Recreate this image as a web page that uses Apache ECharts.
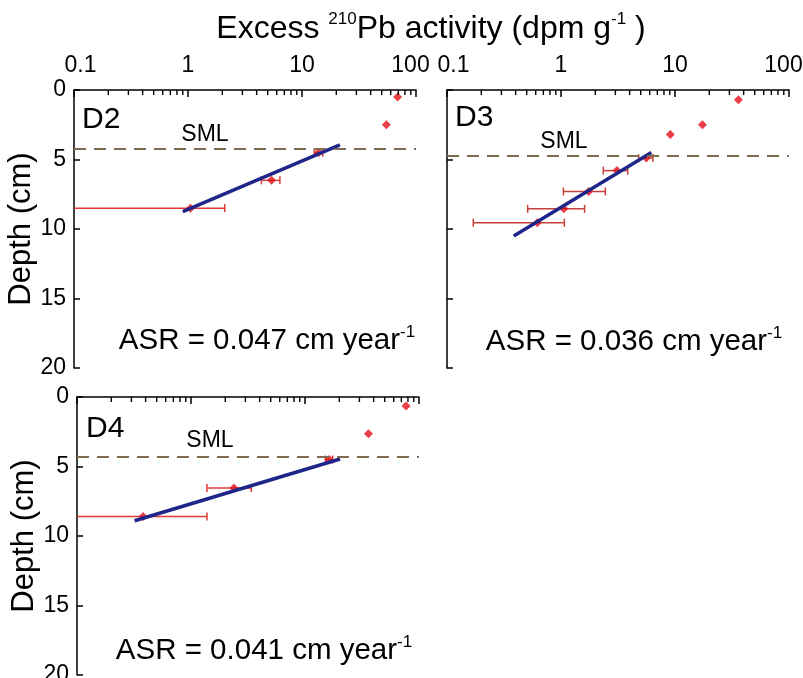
<!DOCTYPE html>
<html>
<head>
<meta charset="utf-8">
<script src="https://cdn.jsdelivr.net/npm/echarts@6/dist/echarts.min.js"></script>
<style>
html,body{margin:0;padding:0;background:#fff;}
#chart{width:803px;height:678px;}
</style>
</head>
<body>
<div id="chart"></div>
<script>
// ---------- data ----------
var panelNames = ['D2', 'D3', 'D4'];
var asrLabels = ['0.047', '0.036', '0.041'];

var d2Depth    = [0.5, 2.5, 4.5, 6.5, 8.5];
var d2Activity = [69, 55, 14, 5.4, 1.05];
var d2Error    = [0, 0, 1.2, 1.0, 1.05];
var d2Fit      = [[0.90, 8.75], [21.5, 3.94]];
var d2Sml      = 4.2;

var d3Depth    = [0.7, 2.5, 3.2, 4.9, 5.8, 7.3, 8.55, 9.55];
var d3Activity = [36, 17.4, 9.1, 5.6, 3.1, 1.75, 1.06, 0.62];
var d3Error    = [0, 0, 0, 0.8, 0.75, 0.7, 0.55, 0.45];
var d3Fit      = [[0.385, 10.5], [6.2, 4.5]];
var d3Sml      = 4.7;

var d4Depth    = [0.65, 2.65, 4.5, 6.55, 8.6];
var d4Activity = [77, 36, 16.3, 2.38, 0.38];
var d4Error    = [0, 0, 1.2, 1.0, 1.0];
var d4Fit      = [[0.32, 8.9], [20.3, 4.46]];
var d4Sml      = 4.3;

var xMinorTicks = [0.2, 0.3, 0.4, 0.5, 0.6, 0.7, 0.8, 0.9,
                   2, 3, 4, 5, 6, 7, 8, 9,
                   20, 30, 40, 50, 60, 70, 80, 90];

// ---------- build ----------
var FONT = '"Liberation Sans", Arial, "DejaVu Sans", sans-serif';
var panels = [
  {depth: d2Depth, act: d2Activity, err: d2Error, fit: d2Fit, sml: d2Sml, errColor: '#e03a35'},
  {depth: d3Depth, act: d3Activity, err: d3Error, fit: d3Fit, sml: d3Sml, errColor: '#c8403a'},
  {depth: d4Depth, act: d4Activity, err: d4Error, fit: d4Fit, sml: d4Sml, errColor: '#e03a35'}
];
var grids = [
  {left: 74, top: 90, width: 342, height: 278},
  {left: 447, top: 90, width: 342, height: 278},
  {left: 77, top: 397, width: 342, height: 278}
];

var option = {
  backgroundColor: '#fff',
  animation: false,
  textStyle: {fontFamily: FONT},
  grid: grids.map(function (g) {
    return Object.assign({outerBoundsMode: 'none', containLabel: false}, g);
  }),
  xAxis: [],
  yAxis: [],
  series: [],
  graphic: []
};

grids.forEach(function (g, i) {
  option.xAxis.push({
    type: 'log', logBase: 10, gridIndex: i, position: 'top', min: 0.1, max: 100,
    axisLine: {show: true, onZero: false, lineStyle: {color: '#000', width: 1.5}},
    axisTick: {show: true, inside: true, length: 7, lineStyle: {color: '#000', width: 1.5}},
    axisLabel: {show: i < 2, fontSize: 23, color: '#000',
                margin: 13, fontFamily: FONT,
                rich: {
                  l: {fontSize: 23, fontFamily: FONT, color: '#000', padding: [0, 0, 0, 13]},
                  r: {fontSize: 23, fontFamily: FONT, color: '#000', padding: [0, 11, 0, 0]}
                },
                formatter: function (v) {
                  if (v === 0.1) return '{l|0.1}';
                  if (v === 100) return '{r|100}';
                  return String(v);
                }},
    splitLine: {show: false},
    minorTick: {show: false}
  });
  option.yAxis.push({
    type: 'value', gridIndex: i, inverse: true, min: 0, max: 20, interval: 5,
    axisLine: {show: true, onZero: false, lineStyle: {color: '#000', width: 1.5}},
    axisTick: {show: true, inside: true, length: 6, lineStyle: {color: '#000', width: 1.5}},
    axisLabel: {show: i !== 1, fontSize: 23, color: '#000', margin: 8, fontFamily: FONT},
    splitLine: {show: false},
    name: i !== 1 ? 'Depth (cm)' : '',
    nameLocation: 'middle', nameGap: 33,
    nameTextStyle: {fontSize: 31, color: '#000', fontFamily: FONT}
  });
});

panels.forEach(function (p, i) {
  var pts = p.act.map(function (a, k) { return [a, p.depth[k]]; });
  var errs = [];
  p.act.forEach(function (a, k) { if (p.err[k] > 0) errs.push([a, p.err[k], p.depth[k]]); });
  var col = p.errColor;
  // minor ticks of the log axis (2..9 per decade), placed through the axis scale
  option.series.push({
    type: 'custom', xAxisIndex: i, yAxisIndex: i, silent: true, z: 5, clip: false,
    data: xMinorTicks.map(function (v) { return [v, 0]; }),
    encode: {x: 0, y: 1},
    renderItem: function (params, api) {
      var c = api.coord([api.value(0), api.value(1)]);
      return {type: 'line', shape: {x1: c[0], y1: c[1], x2: c[0], y2: c[1] + 5},
              style: {stroke: '#000', lineWidth: 1.4}};
    }
  });
  option.series.push({
    type: 'custom', xAxisIndex: i, yAxisIndex: i, data: errs,
    encode: {x: 0, y: 2}, silent: true, z: 2,
    renderItem: function (params, api) {
      var x = api.value(0), e = api.value(1), y = api.value(2);
      var loRaw = x - e;
      var lo = Math.max(loRaw, 0.1);
      var p1 = api.coord([lo, y]), p2 = api.coord([x + e, y]);
      var h = 4;
      var st = {stroke: col, lineWidth: 1.5};
      var ch = [{type: 'line', shape: {x1: p1[0], y1: p1[1], x2: p2[0], y2: p2[1]}, style: st}];
      if (loRaw > 0.1) ch.push({type: 'line', shape: {x1: p1[0], y1: p1[1] - h, x2: p1[0], y2: p1[1] + h}, style: st});
      ch.push({type: 'line', shape: {x1: p2[0], y1: p2[1] - h, x2: p2[0], y2: p2[1] + h}, style: st});
      return {type: 'group', children: ch};
    }
  });
  option.series.push({
    type: 'scatter', xAxisIndex: i, yAxisIndex: i, data: pts,
    symbol: 'diamond', symbolSize: 9, itemStyle: {color: '#e3101a'}, z: 3, silent: true
  });
  option.series.push({
    type: 'line', xAxisIndex: i, yAxisIndex: i, data: p.fit,
    symbol: 'none', lineStyle: {color: '#1e2689', width: 3.5}, z: 4, silent: true,
    markLine: {
      silent: true, symbol: ['none', 'none'], label: {show: false},
      lineStyle: {color: '#806a50', width: 2, type: [12, 8]},
      data: [{yAxis: p.sml}]
    }
  });
});

var sup = {fontSize: 17, verticalAlign: 'top', fontFamily: FONT, fill: '#000'};
function txt(x, y, text, size, rich, align) {
  var s = {text: text, x: x, y: y, fill: '#000', fontSize: size, fontFamily: FONT,
           verticalAlign: 'middle', textVerticalAlign: 'middle', align: align || 'left'};
  if (rich) { s.rich = {sup: sup}; s.lineHeight = size + 4; }
  return {type: 'text', silent: true, z: 10, style: s};
}
option.graphic.push(txt(431, 29, 'Excess {sup|210}Pb activity (dpm g{sup|-1} )', 32, true, 'center'));
var dPos = [[82, 120], [455, 118], [86, 429]];
var smlPos = [[205, 135], [564, 142], [210, 441]];
var asrPos = [[267, 341], [634, 342], [264, 651]];
panelNames.forEach(function (n, i) {
  option.graphic.push(txt(dPos[i][0], dPos[i][1], n, 30));
  option.graphic.push(txt(smlPos[i][0], smlPos[i][1], 'SML', 23, false, 'center'));
  option.graphic.push(txt(asrPos[i][0], asrPos[i][1], 'ASR = ' + asrLabels[i] + ' cm year{sup|-1}', 29.5, true, 'center'));
});

var chart = echarts.init(document.getElementById('chart'), null, {renderer: 'canvas'});
chart.setOption(option);
</script>
</body>
</html>
